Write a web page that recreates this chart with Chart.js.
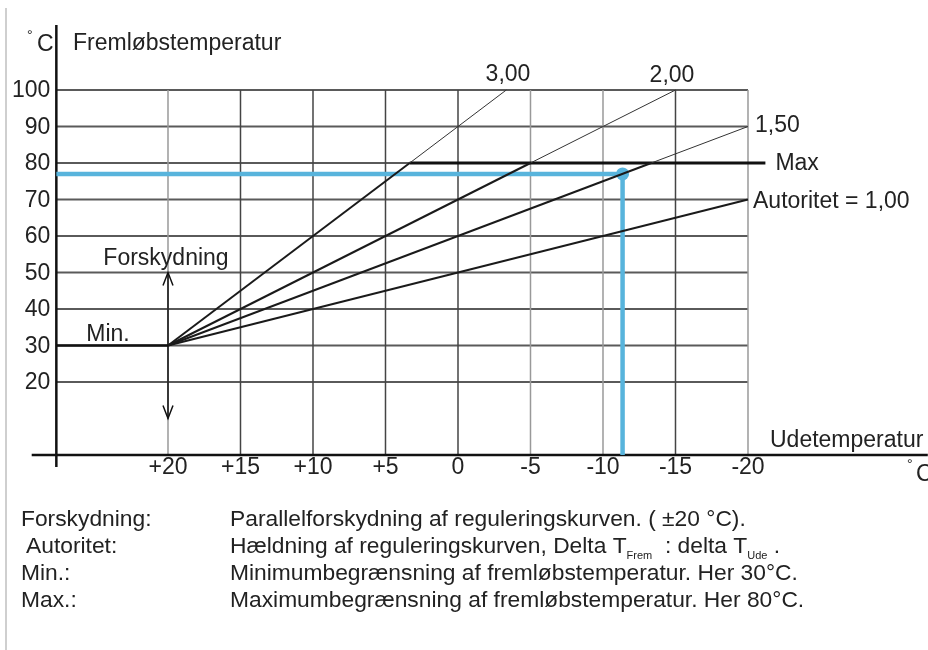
<!DOCTYPE html>
<html><head><meta charset="utf-8">
<script src="https://cdn.jsdelivr.net/npm/chart.js@4/dist/chart.umd.min.js"></script>
<style>html,body{margin:0;padding:0;background:#fff}canvas{display:block}</style>
</head><body>
<canvas id="c" width="928" height="650"></canvas>
<script>
// ---- data ----
const xTicks = [20, 15, 10, 5, 0, -5, -10, -15, -20];
const xTickLabels = ['+20', '+15', '+10', '+5', '0', '-5', '-10', '-15', '-20'];
const yTicks = [100, 90, 80, 70, 60, 50, 40, 30, 20];
const yTickLabels = ['100', '90', '80', '70', '60', '50', '40', '30', '20'];

const curveNames = ['3,00', '2,00', '1,50', 'Autoritet = 1,00'];
const curveStartX = 20, curveStartY = 30;
const curveMaxX = [3.33, -5, -13.33, -20];     // where each curve reaches the Max limit (or ends)
const curveMaxY = [80, 80, 80, 70];
const curveEndX = [-3.33, -15, -20, -20];      // end of faint continuation
const curveEndY = [100, 100, 90, 70];

const minX = [27.7, 20], minY = [30, 30];
const maxX = [3.33, -21.2], maxY = [80, 80];
const blueX = [27.7, -11.35, -11.35], blueY = [77, 77, 0];
const arrowX = [20, 20], arrowY = [50, 10];

const yAxisAt = 27.7, yAxisTop = 117.8, yAxisBottom = -3.3;
const xAxisLeft = 29.4, xAxisRight = -32.4;

// ---- build datasets ----
const pts = (xs, ys) => xs.map((x, i) => ({x, y: ys[i]}));
const datasets = [];
curveNames.forEach((n, i) => {
  datasets.push({data: pts([curveStartX, curveMaxX[i]], [curveStartY, curveMaxY[i]]), borderColor: '#1a1a1a', borderWidth: 2, pointRadius: 0});
  if (curveEndX[i] !== curveMaxX[i] || curveEndY[i] !== curveMaxY[i])
    datasets.push({data: pts([curveMaxX[i], curveEndX[i]], [curveMaxY[i], curveEndY[i]]), borderColor: '#333', borderWidth: 1, pointRadius: 0});
});
datasets.push({data: pts(minX, minY), borderColor: '#111', borderWidth: 2.5, pointRadius: 0});
datasets.push({data: pts(maxX, maxY), borderColor: '#111', borderWidth: 3, pointRadius: 0});
datasets.push({data: pts(arrowX, arrowY), borderColor: '#111', borderWidth: 1.5, pointRadius: 0});
datasets.push({data: pts(blueX, blueY), borderColor: '#58b4dc', borderWidth: 4.5, pointRadius: [0, 6.5, 0],
  pointBackgroundColor: '#58b4dc', pointBorderWidth: 0});

const FONT = '"Liberation Sans", Arial, sans-serif';
const FS = 23;

const deco = {
  id: 'deco',
  beforeDatasetsDraw(chart) {
    const {ctx, scales: {x, y}} = chart;
    ctx.save();
    // faint frame line on left
    ctx.strokeStyle = '#cfcfcf'; ctx.lineWidth = 2;
    ctx.beginPath(); ctx.moveTo(6, 8); ctx.lineTo(6, 650); ctx.stroke();
    // grid
    ctx.strokeStyle = '#5a5a5a'; ctx.lineWidth = 1.8;
    yTicks.forEach(v => {
      const py = y.getPixelForValue(v);
      ctx.beginPath(); ctx.moveTo(x.getPixelForValue(yAxisAt), py); ctx.lineTo(x.getPixelForValue(-20), py); ctx.stroke();
    });
    ctx.lineWidth = 1.5;
    xTicks.forEach(v => {
      const px = x.getPixelForValue(v);
      ctx.strokeStyle = (v === 20 || v === -5 || v === -10 || v === -20) ? '#999' : '#444';
      ctx.beginPath(); ctx.moveTo(px, y.getPixelForValue(100)); ctx.lineTo(px, y.getPixelForValue(0)); ctx.stroke();
    });
    // axes
    ctx.strokeStyle = '#111'; ctx.lineWidth = 2.5;
    ctx.beginPath();
    ctx.moveTo(x.getPixelForValue(yAxisAt), y.getPixelForValue(yAxisTop));
    ctx.lineTo(x.getPixelForValue(yAxisAt), y.getPixelForValue(yAxisBottom));
    ctx.moveTo(x.getPixelForValue(xAxisLeft), y.getPixelForValue(0));
    ctx.lineTo(x.getPixelForValue(xAxisRight), y.getPixelForValue(0));
    ctx.stroke();
    ctx.restore();
  },
  afterDatasetsDraw(chart) {
    const {ctx, scales: {x, y}} = chart;
    ctx.save();
    ctx.fillStyle = '#222';
    ctx.font = FS + 'px ' + FONT;
    // y tick labels
    ctx.textAlign = 'right'; ctx.textBaseline = 'middle';
    yTicks.forEach((v, i) => ctx.fillText(yTickLabels[i], x.getPixelForValue(yAxisAt) - 6, y.getPixelForValue(v) + 1));
    // x tick labels
    ctx.textAlign = 'center'; ctx.textBaseline = 'middle';
    xTicks.forEach((v, i) => ctx.fillText(xTickLabels[i], x.getPixelForValue(v), y.getPixelForValue(0) + 13));
    // axis titles
    ctx.textAlign = 'left'; ctx.textBaseline = 'middle';
    ctx.fillText('Fremløbstemperatur', 73, 44);
    ctx.fillText('Udetemperatur', 770, 441);
    ctx.font = '14px ' + FONT; ctx.fillText('°', 27, 36); ctx.fillText('°', 907, 465);
    ctx.font = FS + 'px ' + FONT; ctx.fillText('C', 37, 45); ctx.fillText('C', 916, 475);
    // curve labels
    ctx.textAlign = 'center'; ctx.textBaseline = 'middle';
    ctx.fillText(curveNames[0], 508, 75);
    ctx.fillText(curveNames[1], 672, 76);
    ctx.textAlign = 'left';
    ctx.fillText(curveNames[2], x.getPixelForValue(-20) + 7, y.getPixelForValue(90) - 1);
    ctx.fillText('Max', x.getPixelForValue(maxX[1]) + 10, y.getPixelForValue(80) + 1);
    ctx.fillText(curveNames[3], x.getPixelForValue(-20) + 5, y.getPixelForValue(70) + 2);
    ctx.textAlign = 'center';
    ctx.fillText('Forskydning', x.getPixelForValue(20) - 2, 259);
    ctx.fillText('Min.', 108, 335);
    // arrowheads
    ctx.strokeStyle = '#111'; ctx.lineWidth = 1.5;
    const ax = x.getPixelForValue(arrowX[0]);
    const t = y.getPixelForValue(arrowY[0]), b = y.getPixelForValue(arrowY[1]);
    ctx.beginPath();
    ctx.moveTo(ax - 5, t + 13); ctx.lineTo(ax, t); ctx.lineTo(ax + 5, t + 13);
    ctx.moveTo(ax - 5, b - 13); ctx.lineTo(ax, b); ctx.lineTo(ax + 5, b - 13);
    ctx.stroke();
    // notes below
    const NF = 22.8;
    ctx.font = NF + 'px ' + FONT; ctx.textAlign = 'left'; ctx.textBaseline = 'middle';
    const c1 = 21, c2 = 230;
    const rows = [520, 547, 574, 601];
    ctx.fillText('Forskydning:', c1, rows[0]);
    ctx.fillText('Parallelforskydning af reguleringskurven. ( ±20 °C).', c2, rows[0]);
    ctx.fillText('Autoritet:', c1 + 5, rows[1]);
    let px = c2;
    const seg = (s, f, dy) => { ctx.font = f + 'px ' + FONT; ctx.fillText(s, px, rows[1] + dy); px += ctx.measureText(s).width; };
    seg('Hældning af reguleringskurven, Delta T', NF, 0);
    seg('Frem', 11, 9); seg('  : delta T', NF, 0); seg('Ude', 11, 9); seg(' .', NF, 0);
    ctx.font = NF + 'px ' + FONT;
    ctx.fillText('Min.:', c1, rows[2]);
    ctx.fillText('Minimumbegrænsning af fremløbstemperatur. Her 30°C.', c2, rows[2]);
    ctx.fillText('Max.:', c1, rows[3]);
    ctx.fillText('Maximumbegrænsning af fremløbstemperatur. Her 80°C.', c2, rows[3]);
    ctx.restore();
  }
};

new Chart(document.getElementById('c'), {
  type: 'line',
  data: {datasets},
  options: {
    responsive: false, animation: false, maintainAspectRatio: false,
    layout: {padding: 0},
    elements: {line: {tension: 0, borderCapStyle: 'butt'}},
    scales: {
      x: {type: 'linear', reverse: true, min: -32.414, max: 31.586, display: false},
      y: {type: 'linear', min: -53.42, max: 124.66, display: false}
    },
    plugins: {legend: {display: false}, tooltip: {enabled: false}}
  },
  plugins: [deco]
});
</script>
</body></html>
